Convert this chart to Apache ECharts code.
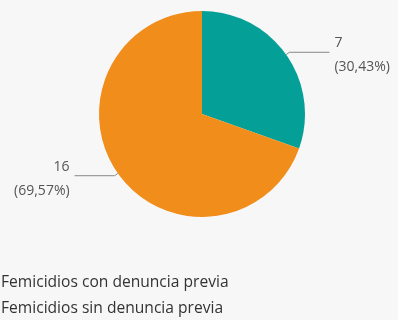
<!DOCTYPE html>
<html><head><meta charset="utf-8">
<script src="https://cdn.jsdelivr.net/npm/echarts@6/dist/echarts.min.js"></script>
<style>html,body{margin:0;padding:0;background:#f7f7f7}#c{width:398px;height:320px}</style>
</head><body><div id="c"></div>
<script>
const categories = ["Femicidios con denuncia previa", "Femicidios sin denuncia previa"];
const values = [7, 16];
const percentLabels = ["30,43%", "69,57%"];
const colors = ["#049f96", "#f18d1b"];

const chart = echarts.init(document.getElementById('c'));
chart.setOption({
  backgroundColor: '#f7f7f7',
  animation: false,
  textStyle: { fontFamily: 'Open Sans' },
  legend: {
    orient: 'vertical', left: -4, top: 275, height: 80, padding: 0,
    itemWidth: 0, itemHeight: 0, itemGap: 10,
    icon: 'rect',
    textStyle: { fontSize: 15.6, color: '#333', fontFamily: 'Open Sans' },
    data: categories
  },
  series: [{
    type: 'pie',
    center: [202, 114],
    radius: 103,
    startAngle: 90,
    clockwise: true,
    data: categories.map((c, i) => ({ name: c, value: values[i], itemStyle: { color: colors[i] } })),
    label: {
      show: true, position: 'outside',
      overflow: 'none', edgeDistance: 0,
      padding: [6, 0, 0, 0],
      formatter: p => '{v|' + p.value + '}\n{p|(' + percentLabels[p.dataIndex] + ')}',
      rich: {
        v: { fontSize: 14, color: '#555', lineHeight: 24, fontFamily: 'Open Sans' },
        p: { fontSize: 14, color: '#555', lineHeight: 24, fontFamily: 'Open Sans' }
      }
    },
    labelLine: { show: true, length: 4, length2: 40, lineStyle: { color: '#888', width: 1 } },
    emphasis: { disabled: true }
  }]
});
</script></body></html>
